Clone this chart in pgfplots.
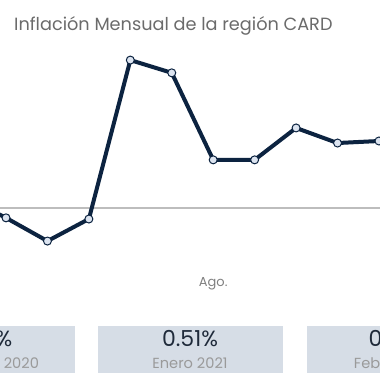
\documentclass[border=0pt]{standalone}
\usepackage{pgfplots}
\pgfplotsset{compat=1.18}
\usepackage{fontspec}
\setmainfont{Poppins}
\definecolor{navy}{HTML}{0C2340}
\definecolor{mfill}{HTML}{DCE4F0}
\definecolor{zline}{HTML}{BDBDBD}
\definecolor{boxc}{HTML}{D6DDE6}
\definecolor{titc}{HTML}{6B6B6B}
\definecolor{valc}{HTML}{1F2A3A}
\definecolor{subc}{HTML}{9A9A9A}
\begin{document}
\begin{tikzpicture}[x=1pt,y=1pt]
\clip (0,0) rectangle (380,380);
\fill[white] (0,0) rectangle (380,380);
% summary boxes
\fill[boxc] (-110,7) rectangle (75,54);
\fill[boxc] (98,7) rectangle (283,54);
\fill[boxc] (307,7) rectangle (492,54);
\node[anchor=base,font=\fontsize{22}{26}\selectfont,text=valc,inner sep=0pt] at (-18,33) {0.23\%};
\node[anchor=base,font=\fontsize{14.6}{18}\selectfont,text=subc,inner sep=0pt] at (-18,11.7) {Diciembre 2020};
\node[anchor=base,font=\fontsize{22}{26}\selectfont,text=valc,inner sep=0pt] at (190,33) {0.51\%};
\node[anchor=base,font=\fontsize{14.6}{18}\selectfont,text=subc,inner sep=0pt] at (190,11.7) {Enero 2021};
\node[anchor=base,font=\fontsize{22}{26}\selectfont,text=valc,inner sep=0pt] at (399,33) {0.23\%};
\node[anchor=base,font=\fontsize{14.6}{18}\selectfont,text=subc,inner sep=0pt] at (399,11.7) {Febrero 2021};
% title
\node[anchor=base west,font=\fontsize{17.7}{21}\selectfont,text=titc,inner sep=0pt] at (14,349) {Inflación Mensual de la región CARD};
\begin{axis}[
  at={(0,0)}, anchor=south west,
  scale only axis, width=380pt, height=380pt,
  xmin=-0.1448, xmax=9.025,
  ymin=-0.5931, ymax=0.7172,
  axis lines=none,
  clip=true,
]
\addplot[zline, line width=1.6pt, forget plot] coordinates {(-2,0) (11,0)};
\addplot[navy, line width=4pt, mark=*, mark size=4pt,
  mark options={fill=mfill, draw=navy, line width=1pt}] coordinates {
  (-1,0.038) (0,-0.034) (1,-0.114) (2,-0.038) (3,0.510) (4,0.466)
  (5,0.166) (6,0.166) (7,0.276) (8,0.224) (9,0.231)};
\node[anchor=base,font=\fontsize{13}{15}\selectfont,text=titc!85!white,inner sep=0pt] at (axis cs:5,-0.2724) {Ago.};
\end{axis}
\end{tikzpicture}
\end{document}
